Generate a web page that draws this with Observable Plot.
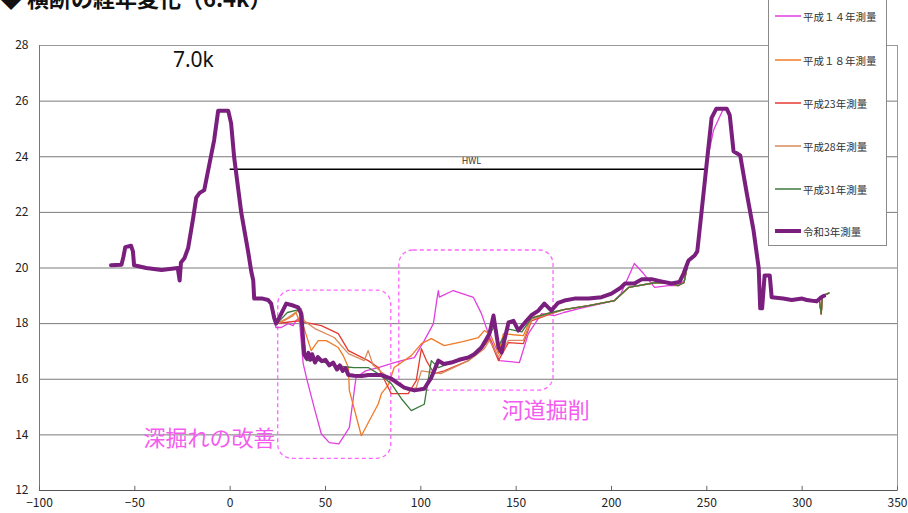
<!DOCTYPE html>
<html><head><meta charset="utf-8">
<script src="https://cdn.jsdelivr.net/npm/d3@7"></script>
<script src="https://cdn.jsdelivr.net/npm/@observablehq/plot@0.6"></script>
<style>
body{margin:0;background:#fff;}
#wrap{position:relative;width:908px;height:513px;overflow:hidden;font-family:"Noto Sans CJK JP","Noto Sans",sans-serif;}
#title{position:absolute;left:0;top:-14px;font-size:22px;line-height:22px;font-weight:bold;color:#111;white-space:nowrap;}
#legend{position:absolute;left:768px;top:-2px;width:117px;height:246px;border:1px solid #8a8a8a;background:#fff;}
.li{position:absolute;left:6px;height:14px;display:flex;align-items:center;font-size:10.5px;color:#333;white-space:nowrap;}
.li svg{margin-right:2px;}
</style></head>
<body><div id="wrap"><div id="chart"></div><div id="title">◆ 横断の経年変化（6.4k）</div><div id="legend"></div></div>
<script>
// ---- data ----
const xTicks = [-100,-50,0,50,100,150,200,250,300,350];
const yTicks = [12,14,16,18,20,22,24,26,28];
const seriesNames = ["平成１４年測量","平成１８年測量","平成23年測量","平成28年測量","平成31年測量","令和3年測量"];
const seriesColors = ["#e23fe0","#f07a26","#e63a30","#d98a5c","#3d7a3d","#7a1f7e"];

const leftBank = [[-62.5,20.1],[-57,20.12],[-56,20.4],[-55,20.75],[-52,20.8],[-51,20.6],[-50.4,20.1],[-44,20.0],[-36,19.93],[-27.5,20.0],[-26.5,19.55],[-25.8,20.2],[-24,20.35],[-22,20.73],[-19.4,21.8],[-17.8,22.53],[-16,22.7],[-13.6,22.8],[-8.4,24.6],[-6.3,25.65],[-1,25.65],[0.5,25.2],[2.1,23.97],[5.8,22.0],[9.4,20.6],[11,19.9],[12.1,19.55],[12.6,18.9],[14.7,18.9],[17,18.9],[19.9,18.85],[21.5,18.72]];

const r3Channel = [[23.1,18.2],[24.1,18.0],[26.8,18.36],[29.4,18.72],[33,18.65],[35.7,18.58],[37.3,18.36],[38.8,16.9],[40,16.75],[41,16.95],[42,16.7],[43,16.9],[44.5,16.6],[46,16.8],[48,16.65],[50,16.7],[52,16.5],[54,16.6],[56,16.35],[57.5,16.5],[59,16.3],[60.5,16.4],[62,16.15],[65.1,16.13],[69,16.12],[72.4,16.15],[76,16.15],[79.3,16.15],[84.5,16.02],[88,15.85],[91.3,15.7],[96.6,15.6],[101.8,15.66],[105.5,16.06],[109.2,16.67],[112,16.55],[116,16.6],[120,16.7],[124.9,16.78],[128,16.9],[131.8,17.14],[136,17.64],[138.1,18.29],[140.7,17.14],[142.3,16.96],[146,18.04],[148.6,18.1],[151.2,17.75],[155.4,18.1],[158,18.3],[161.7,18.47],[164.8,18.72],[168.5,18.47],[172,18.75],[175.3,18.83],[180.6,18.9],[188,18.9],[194.8,18.95],[200,19.08],[205,19.3],[207,19.44],[212,19.44],[216,19.6],[221,19.6],[226,19.52],[231.5,19.44],[235.7,19.5],[237.8,19.8]];

const h14Channel = [[22.5,18.3],[24,17.86],[26.8,17.86],[30.4,18.0],[33,17.93],[34.5,18.1],[36.2,18.2],[38.3,16.56],[40,16.06],[44,15.0],[47.8,14.04],[52,13.72],[57,13.68],[62.5,14.26],[66,16.06],[71,16.3],[77.7,16.42],[84,16.55],[89.8,16.67],[96.6,16.78],[101.8,17.39],[106.6,18.0],[108.7,19.0],[109.2,19.19],[109.7,18.95],[117,19.19],[127.6,18.94],[131.8,18.36],[135.4,17.64],[141.2,16.67],[151.7,16.6],[156.4,17.64],[163.3,18.36],[170,18.29],[175,18.4],[183,18.54],[201.6,18.83],[205,19.08],[212,20.16],[216.8,19.8],[222.6,19.3],[229.9,19.37],[235,19.37],[238.3,19.55]];

const h18Channel = [[22.5,18.4],[24,18.0],[28,18.1],[33,18.29],[34.5,18.4],[36.2,18.1],[38,18.0],[42.5,17.03],[46.2,17.39],[50.4,17.39],[56.7,17.14],[59.3,16.85],[62,16.42],[62.5,15.6],[68.8,13.97],[77.7,15.12],[79.3,15.48],[83,15.8],[86,16.42],[95,16.85],[100.3,17.28],[105.5,17.46],[112.3,17.21],[122,17.35],[130.2,17.5],[133.3,17.75],[136.5,17.6],[140.7,16.92],[143.3,17.64],[148.6,17.6],[153.8,17.57],[158,18.22],[168.5,18.4]];

const h23Channel = [[23,18.3],[24.1,18.0],[30,18.05],[35.7,18.1],[38.8,18.05],[47.8,17.93],[56.7,17.64],[62,17.03],[72.4,16.67],[77.7,16.42],[84.5,15.48],[93.4,15.48],[97.6,15.95],[100.3,17.1],[102.9,16.67],[107,16.2],[112.3,16.3],[125,16.67],[133.3,17.21],[136,17.46],[140.7,16.67],[146,17.32],[153.8,17.28],[158,18.1],[168.5,18.36]];

const h28Channel = [[22.5,18.5],[24.5,18.0],[30,18.2],[37.3,18.54],[38.8,18.1],[45,17.8],[54.6,17.5],[62,16.92],[70.3,16.67],[72.4,17.03],[75,16.5],[83,16.06],[93.4,15.6],[97.6,15.7],[100.3,16.3],[110.5,16.2],[125,16.67],[133.3,17.1],[136,17.4],[140.7,16.8],[146,17.4],[153.8,17.4],[158,18.15],[168.5,18.38]];

const h31Channel = [[22.5,18.5],[24.5,18.0],[30,18.4],[36,18.5],[38.5,17.5],[40,16.67],[45,16.7],[55,16.5],[60,16.45],[65,16.42],[72.4,16.42],[79.3,16.13],[84.5,15.84],[89.8,15.3],[95,14.87],[101.8,15.1],[105.5,16.67],[109.2,16.42],[114.5,16.55],[120,16.65],[126,16.8],[132,17.2],[136,17.6],[138.5,17.9],[140.7,17.2],[146,17.8],[153,17.7],[158,18.2],[168.5,18.4]];

const oldFloodplain = [[175,18.5],[188,18.65],[201.6,18.83],[209,19.3],[222.6,19.47],[229,19.47],[235,19.37],[238,19.47]];

const rightBankLow = [[240.4,20.27],[243.6,20.45],[245,20.6],[247.2,22.0],[250,23.8]];
const peakR3 = [[252.5,25.4],[255,25.73],[260.4,25.73]];
const peakH14 = [[253.5,24.95],[258.5,25.7],[260.4,25.73]];
const rightBankHigh = [[262,25.5],[264,24.2],[267.5,24.05],[270.9,22.7],[274.5,21.35],[277.2,20.0],[278,18.55],[279,18.55],[280.3,19.73],[283,19.73],[284,18.95],[290,18.9],[294.5,18.85]];
const r3End = [[300,18.9],[302.4,18.85],[307.6,18.8],[310,18.95],[311.5,19.0]];
const oldEnd = [[300,18.9],[305,18.85],[309,18.85],[310,18.35],[310.6,19.0],[314,19.1]];

const hwlRange = [0, 250];
const hwlLevel = 23.55;
const boxes = [{x1:25.2,x2:84.5,y1:13.14,y2:19.19},{x1:88.7,x2:169.6,y1:15.59,y2:20.63}];
const noteLeft = [{x:23.8,y:13.86,t:"深掘れの改善"}];
const noteRight = [{x:142.5,y:14.87,t:"河道掘削"}];

// ---- build ----
const toRows = a => a.map(([x,y]) => ({x,y}));
const series = [
  leftBank.concat(h14Channel, rightBankLow, peakH14, rightBankHigh, oldEnd),
  leftBank.concat(h18Channel, oldFloodplain, rightBankLow, peakR3, rightBankHigh, oldEnd),
  leftBank.concat(h23Channel, oldFloodplain, rightBankLow, peakR3, rightBankHigh, oldEnd),
  leftBank.concat(h28Channel, oldFloodplain, rightBankLow, peakR3, rightBankHigh, oldEnd),
  leftBank.concat(h31Channel, oldFloodplain, rightBankLow, peakR3, rightBankHigh, oldEnd),
  leftBank.concat(r3Channel, rightBankLow, peakR3, rightBankHigh, r3End)
].map(toRows);

const lineMarks = series.map((rows,i) => Plot.line(rows, {x:"x", y:"y", stroke: seriesColors[i], strokeWidth: i===5 ? 4 : 1.3, strokeLinejoin:"round", curve:"linear"}));

const chart = Plot.plot({
  width: 908, height: 513,
  marginLeft: 39, marginRight: 11, marginTop: 45, marginBottom: 23,
  style: {fontFamily: '"Noto Sans CJK JP","Noto Sans",sans-serif', fontSize: "12px", color: "#222", background: "#fff"},
  x: {domain: [-100, 350]},
  y: {domain: [12, 28]},
  marks: [
    Plot.ruleY(yTicks.slice(1, -1), {stroke: "#7a7a7a", strokeWidth: 1}),
    Plot.frame({stroke: "#9a9a9a"}),
    Plot.ruleY([12], {stroke: "#555"}),
    Plot.ruleX([-100], {stroke: "#777"}),
    Plot.ruleX(xTicks, {y1: 12, y2: 12.15, stroke: "#666"}),
    Plot.axisX({ticks: xTicks, tickSize: 0, tickPadding: 8, label: null}),
    Plot.axisY({ticks: yTicks, tickSize: 0, tickPadding: 11, label: null}),
    Plot.ruleY([hwlLevel], {x1: hwlRange[0], x2: hwlRange[1], stroke: "#000", strokeWidth: 1.5}),
    Plot.text(["HWL"], {x: (hwlRange[0]+hwlRange[1])/2 + 1.5, y: hwlLevel, dy: -8, fontSize: 9, fill: "#333"}),
    Plot.text(["7.0k"], {x: -30, y: 27.46, textAnchor: "start", fontSize: 21, fill: "#111", fontFamily: '"Noto Sans",sans-serif'}),
    Plot.rect(boxes, {x1:"x1", x2:"x2", y1:"y1", y2:"y2", fill:"none", stroke:"#ff66ff", strokeWidth: 1.3, strokeDasharray:"4,3", rx: 14}),
    Plot.text(noteLeft, {x:"x", y:"y", text:"t", textAnchor: "end", fontSize: 22, fill: "#f45cf0"}),
    Plot.text(noteRight, {x:"x", y:"y", text:"t", textAnchor: "start", fontSize: 22, fill: "#f45cf0"}),
    ...lineMarks
  ]
});
document.getElementById("chart").appendChild(chart);

// legend
const lg = document.getElementById("legend");
const legendTops = [10, 54, 97, 140, 183, 225];
seriesNames.forEach((n,i) => {
  const d = document.createElement("div");
  d.className = "li";
  d.style.top = legendTops[i] + "px";
  d.innerHTML = `<svg width="26" height="8"><line x1="0" x2="26" y1="4" y2="4" stroke="${seriesColors[i]}" stroke-width="${i===5?4:1.5}"/></svg>`;
  d.appendChild(document.createTextNode(n));
  lg.appendChild(d);
});
</script></body></html>
